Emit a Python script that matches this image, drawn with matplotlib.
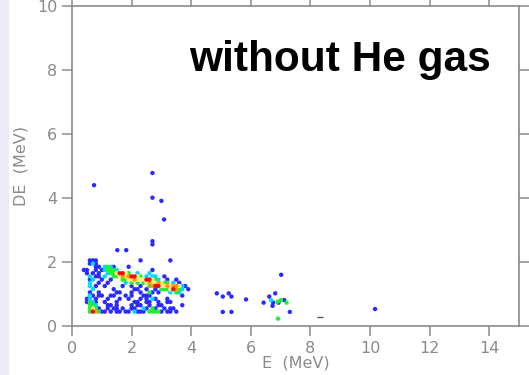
import matplotlib.pyplot as plt
from matplotlib.colors import ListedColormap, BoundaryNorm
from matplotlib.patches import Rectangle

# histogram cells: energy E (MeV), energy loss DE (MeV), counts per cell
E = [0.6, 0.7, 0.8, 2.3, 3.3,
     0.6, 0.7, 0.8,
     0.8, 0.9, 1.1, 1.2, 1.3, 1.4, 1.9,
     0.4, 0.5, 0.8, 1.0, 1.1, 1.2, 1.3, 1.4, 1.5, 2.7,
     0.5, 0.7, 0.9, 1.2, 1.3, 1.4, 1.5, 1.6, 1.7, 1.8, 1.9, 2.2, 2.6,
     0.6, 0.8, 0.9, 1.1, 1.4, 1.5, 1.6, 1.7, 1.8, 1.9, 2.0, 2.1, 2.2, 2.3, 2.5, 2.7, 2.8, 3.1,
     0.6, 0.7, 1.0, 1.3, 1.7, 1.8, 1.9, 2.0, 2.1, 2.2, 2.3, 2.4, 2.5, 2.6, 2.7, 2.8, 2.9, 3.2, 3.5,
     0.6, 0.9, 1.2, 1.8, 2.0, 2.2, 2.4, 2.5, 2.6, 2.7, 2.8, 2.9, 3.0, 3.1, 3.2, 3.4, 3.6,
     0.6, 0.8, 1.1, 1.7, 2.0, 2.3, 2.6, 2.7, 2.8, 2.9, 3.0, 3.1, 3.2, 3.3, 3.4, 3.5, 3.6, 3.7, 3.8,
     0.7, 1.4, 2.1, 2.2, 2.5, 2.8, 3.0, 3.1, 3.2, 3.3, 3.4, 3.5, 3.6, 3.7, 3.9,
     0.6, 0.9, 1.5, 1.6, 2.0, 2.3, 2.6, 2.7, 2.9, 3.3, 3.5, 3.6,
     0.6, 0.7, 0.9, 1.0, 1.3, 1.4, 1.8, 2.0, 2.4, 2.5, 2.6, 3.7,
     0.5, 0.6, 0.8, 1.2, 1.6, 1.9, 2.3, 2.5, 2.7, 2.8, 3.2,
     0.5, 0.6, 0.7, 0.8, 1.1, 1.5, 2.1, 2.2, 2.5, 2.6, 2.9, 3.2, 3.3,
     0.6, 0.7, 0.8, 1.2, 1.3, 1.5, 2.0, 2.2, 2.3, 2.6, 2.9, 3.0, 3.7,
     0.6, 0.7, 0.8, 0.9, 1.2, 1.4, 1.5, 1.7, 2.0, 2.1, 2.4, 2.5, 2.7, 2.8, 3.1, 3.3, 3.4,
     0.6, 0.7, 0.8, 0.9, 1.0, 1.1, 1.3, 1.5, 1.6, 1.8, 1.9, 2.1, 2.2, 2.3, 2.4, 2.6, 2.7, 2.8, 2.9, 3.0, 3.2, 3.3, 3.5,
     # isolated events
     0.74, 2.70, 2.70, 3.00, 3.09, 2.70, 2.70, 1.52, 1.82,
     4.86, 5.06, 5.26, 5.35, 5.06, 5.35, 5.84, 6.43, 6.62, 6.82,
     6.68, 6.75, 6.73, 6.90, 7.01, 7.12, 7.20, 6.93, 7.31, 6.91, 7.02, 10.17]

DE = [2.05] * 5 + [1.95] * 3 + [1.85] * 7 + [1.75] * 10 + [1.65] * 13 + [1.55] * 18 \
    + [1.45] * 19 + [1.35] * 17 + [1.25] * 19 + [1.15] * 15 + [1.05] * 12 + [0.95] * 12 \
    + [0.85] * 11 + [0.75] * 13 + [0.65] * 13 + [0.55] * 17 + [0.45] * 23 \
    + [4.40, 4.78, 4.01, 3.91, 3.33, 2.55, 2.65, 2.37, 2.37,
       1.02, 0.92, 1.02, 0.92, 0.44, 0.44, 0.83, 0.73, 0.92, 1.02,
       0.81, 0.73, 0.63, 0.76, 0.81, 0.81, 0.73, 0.73, 0.44, 0.23, 1.60, 0.53]

counts = [1, 1, 1, 1, 1,
          1, 2, 1,
          1, 1, 2, 3, 2, 1, 1,
          1, 1, 1, 1, 2, 3, 3, 3, 2, 1,
          1, 1, 1, 2, 3, 3, 4, 6, 6, 4, 3, 2, 2,
          2, 1, 1, 2, 3, 3, 4, 5, 4, 5, 6, 6, 4, 3, 2, 2, 2, 1,
          1, 2, 1, 1, 3, 3, 4, 4, 5, 4, 4, 4, 6, 6, 4, 3, 2, 1, 1,
          2, 1, 1, 2, 3, 3, 3, 4, 5, 4, 4, 5, 4, 3, 3, 2, 1,
          2, 1, 1, 1, 1, 1, 3, 5, 6, 6, 4, 4, 5, 4, 5, 5, 4, 2, 1,
          2, 1, 1, 1, 1, 1, 3, 3, 3, 4, 6, 5, 3, 2, 1,
          1, 1, 1, 1, 1, 1, 3, 1, 1, 2, 3, 2,
          2, 1, 1, 1, 1, 1, 1, 1, 1, 1, 1, 1,
          1, 2, 1, 1, 1, 1, 1, 1, 2, 1, 1,
          1, 3, 2, 1, 1, 1, 1, 1, 1, 1, 1, 1, 1,
          3, 3, 2, 1, 1, 1, 1, 1, 1, 1, 1, 1, 1,
          3, 4, 3, 1, 1, 1, 1, 1, 1, 1, 2, 1, 3, 1, 1, 1, 1,
          3, 6, 5, 3, 1, 1, 1, 1, 1, 1, 1, 2, 1, 1, 1, 3, 3, 3, 3, 1, 1, 1, 1,
          1, 1, 1, 1, 1, 1, 1, 1, 1,
          1, 1, 1, 1, 1, 1, 1, 1, 1, 1,
          2, 1, 1, 3, 3, 1, 3, 1, 1, 3, 1, 1]

x_ticks = [0, 2, 4, 6, 8, 10, 12, 14]
y_ticks = [0, 2, 4, 6, 8, 10]

colors = ['#2a2aff', '#00d8ff', '#22ee33', '#f6f27a', '#ff9a10', '#ee1010']
cmap = ListedColormap(colors)
norm = BoundaryNorm([0.5, 1.5, 2.5, 3.5, 4.5, 5.5, 6.5], cmap.N)

fig = plt.figure(figsize=(5.29, 3.75), dpi=100)
fig.patches.append(Rectangle((0, 0), 8 / 529, 1, transform=fig.transFigure,
                             color='#ececf9', zorder=0))
ax = fig.add_axes([72 / 529, 49 / 375, 447 / 529, 320 / 375])

order = sorted(range(len(counts)), key=lambda i: counts[i])
ax.scatter([E[i] for i in order], [DE[i] for i in order], c=[counts[i] for i in order],
           cmap=cmap, norm=norm, marker='o', s=10, linewidths=0)
ax.plot([8.32], [0.27], marker='_', color='#555555', markersize=5, markeredgewidth=1)

ax.set_xlim(0, 15)
ax.set_ylim(0, 10)
ax.set_xticks(x_ticks)
ax.set_yticks(y_ticks)
for s in ax.spines.values():
    s.set_color('#8a8a8a')
    s.set_linewidth(1.2)
ax.tick_params(direction='out', length=7, width=1.1, color='#8a8a8a',
               labelcolor='#8a8a8a', labelsize=11.5, top=True, right=True)
ax.set_xlabel('E  (MeV)', color='#8a8a8a', fontsize=11.5, labelpad=0)
ax.set_ylabel('DE  (MeV)', color='#8a8a8a', fontsize=11.5, labelpad=6)

ax.text(14.05, 7.97, 'without He gas', ha='right', va='baseline',
        fontsize=30.5, fontweight='bold', family=['Liberation Sans', 'DejaVu Sans'])

plt.savefig('out.png', dpi=100)
